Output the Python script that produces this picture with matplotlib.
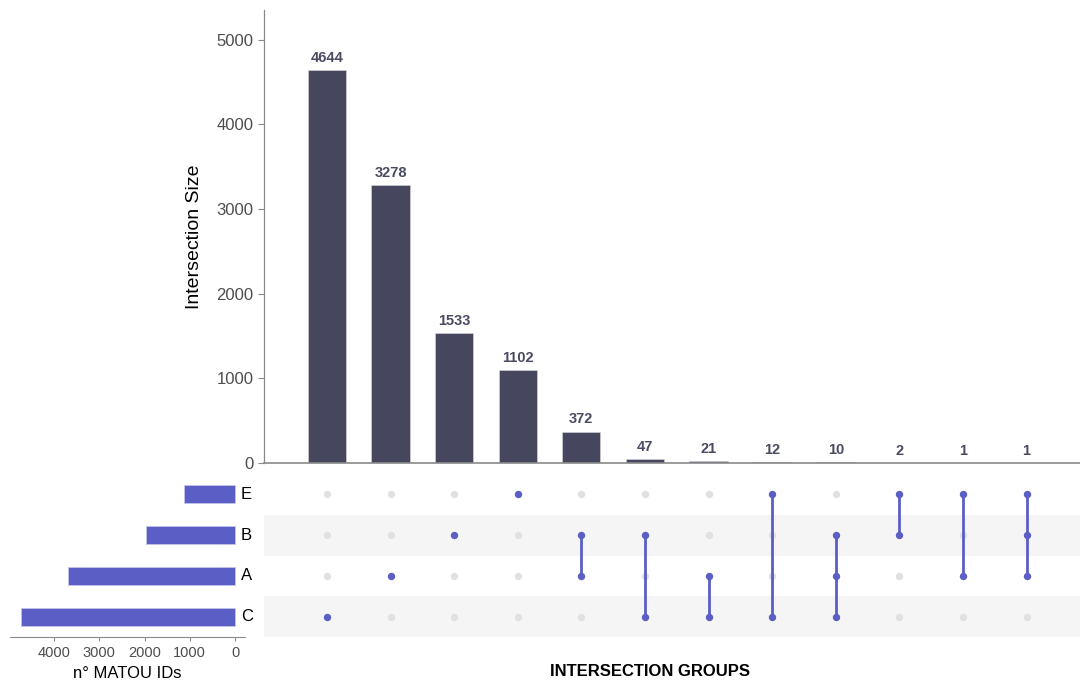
import matplotlib
matplotlib.use("Agg")
import matplotlib.pyplot as plt
from matplotlib import font_manager

names = {f.name for f in font_manager.fontManager.ttflist}
FAM = ['Liberation Sans Narrow', 'Liberation Sans'] if 'Liberation Sans Narrow' in names else ['Liberation Sans']
plt.rcParams['font.family'] = FAM

# ---- data ----
sets = ['E', 'B', 'A', 'C']              # top to bottom in matrix
set_sizes = [1118, 1965, 3683, 4734]
intersection_sizes = [4644, 3278, 1533, 1102, 372, 47, 21, 12, 10, 2, 1, 1]
memberships = [['C'], ['A'], ['B'], ['E'], ['A', 'B'], ['B', 'C'], ['A', 'C'],
               ['E', 'C'], ['B', 'A', 'C'], ['E', 'B'], ['E', 'A'], ['E', 'B', 'A']]
yticks_main = [0, 1000, 2000, 3000, 4000, 5000]
xticks_set = [4000, 3000, 2000, 1000, 0]

BAR = '#46465e'
BLUE = '#5b5ec4'
GREY_DOT = '#e1e1e1'
BAND = '#f5f5f5'
AXC = '#8a8a8a'

W, H = 1080, 684
fig = plt.figure(figsize=(W / 100, H / 100), dpi=100)

def box(x0, y0, x1, y1):
    return [x0 / W, 1 - y1 / H, (x1 - x0) / W, (y1 - y0) / H]

n = len(intersection_sizes)
xs = list(range(n))
xlim = (-0.99, 11.84)

# ---- main bar chart ----
ax = fig.add_axes(box(264, 10, 1080, 463))
ax.bar(xs, intersection_sizes, width=0.6, color=BAR, edgecolor='#d8d8e0', linewidth=0.4)
for x, v in zip(xs, intersection_sizes):
    ax.text(x, v + 60, str(v), ha='center', va='bottom', fontsize=10.5,
            fontweight='bold', color='#4a4a62')
ax.set_xlim(*xlim)
ax.set_ylim(0, 5350)
ax.set_yticks(yticks_main)
ax.set_yticklabels([str(t) for t in yticks_main])
ax.tick_params(axis='y', colors=AXC, labelcolor='#4d4d4d', labelsize=12, length=4, width=0.8)
ax.set_xticks([])
for s in ['top', 'right']:
    ax.spines[s].set_visible(False)
ax.spines['left'].set_color(AXC)
ax.spines['bottom'].set_color(AXC)
ax.spines['left'].set_linewidth(0.9)
ax.spines['bottom'].set_linewidth(1.2)
ax.set_ylabel('Intersection Size', fontsize=14, color='black', labelpad=10)

# ---- matrix ----
mx = fig.add_axes(box(264, 474, 1080, 637))
nrows = len(sets)
ypos = {s: nrows - 1 - i for i, s in enumerate(sets)}
for i, s in enumerate(sets):
    if i % 2 == 1:
        mx.axhspan(ypos[s] - 0.5, ypos[s] + 0.5, color=BAND, lw=0, zorder=0)
for x, mem in zip(xs, memberships):
    for s in sets:
        mx.scatter(x, ypos[s], s=28, color=GREY_DOT, zorder=2, lw=0)
    ys = [ypos[s] for s in mem]
    if len(ys) > 1:
        mx.plot([x, x], [min(ys), max(ys)], color=BLUE, lw=2, zorder=3)
    mx.scatter([x] * len(ys), ys, s=28, color=BLUE, zorder=4, lw=0)
mx.set_xlim(*xlim)
mx.set_ylim(-0.5, nrows - 0.5)
mx.axis('off')
fig.text(650 / W, 1 - 672 / H, 'INTERSECTION GROUPS', ha='center', va='center',
         fontsize=12, fontweight='bold')

# ---- set size bars ----
sx = fig.add_axes(box(10, 474, 245, 637))
sx.barh([ypos[s] for s in sets], set_sizes, height=0.44, color=BLUE,
        edgecolor='#c8c9ee', linewidth=0.5)
sx.set_xlim(4972, -220)
sx.set_ylim(-0.5, nrows - 0.5)
sx.set_xticks(xticks_set)
sx.set_xticklabels([str(t) for t in xticks_set])
sx.set_yticks([])
sx.tick_params(axis='x', colors=AXC, labelcolor='#4d4d4d', labelsize=10.5, length=3)
for s in ['top', 'right', 'left']:
    sx.spines[s].set_visible(False)
sx.spines['bottom'].set_color(AXC)
sx.set_xlabel('n° MATOU IDs', fontsize=12, labelpad=4)
for s in sets:
    fig.text(241 / W, (1 - 637 / H) + (ypos[s] + 0.5) / nrows * (163 / H),
             s, ha='left', va='center', fontsize=12)

fig.savefig('out.png', dpi=100)
